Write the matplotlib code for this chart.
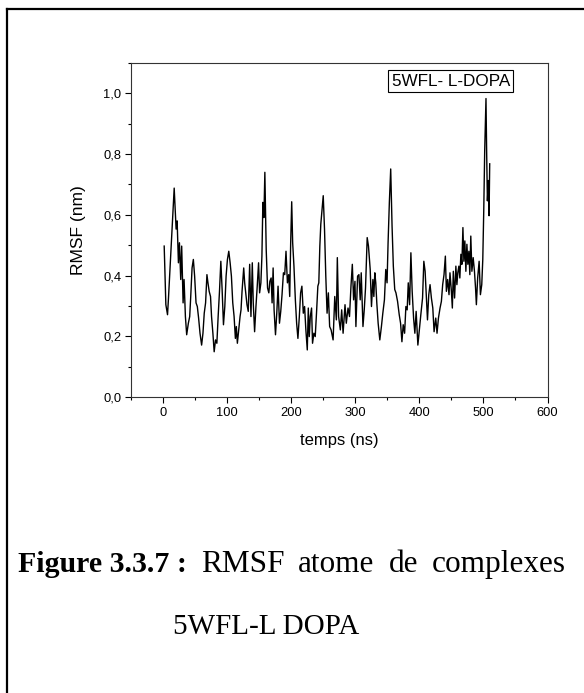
import matplotlib
matplotlib.use('Agg')
import matplotlib.pyplot as plt
from matplotlib.lines import Line2D
from matplotlib.ticker import MultipleLocator, FuncFormatter

plt.rcParams['font.family'] = ['Liberation Sans', 'DejaVu Sans']

# RMSF values (temps en ns, RMSF en nm)
temps = [1.8, 4.4, 7, 8.5, 12.1, 17.4, 20.4, 22, 24, 25.6, 27.6, 29.1, 31.3, 32.8, 34.9, 36.9, 39.5, 41.6, 43.1, 45.3,
         47.3, 49.3, 51.5, 53.5, 55.5, 57.7, 60.2, 62.3, 64.3, 66.4, 68.5, 70.1, 72, 74.1, 75.7, 77.8, 79.8, 81.9, 84, 86,
         88.1, 90.2, 92.2, 94.3, 96.4, 98.4, 100.5, 102.6, 104.7, 106.7, 108.8, 110.9, 112.9, 114.4, 116, 118.1, 120.2, 121.7,
         123.3, 125.9, 127.4, 131, 133, 135.2, 137.2, 139.3, 140.8, 142.9, 145, 147, 149.1, 150.7, 152.7, 154.3, 155.8, 157.4,
         158.9, 161, 163.1, 165.1, 166.7, 168.7, 170.2, 171.8, 173.3, 175.5, 177.5, 179.5, 181.7, 183.7, 185.7, 187.9, 189.9,
         191.9, 194.1, 196.1, 197.7, 199.2, 200.8, 202.3, 204.3, 206.5, 208.5, 210.5, 212.7, 214.7, 216.7, 218.9, 220.9, 222.9,
         225.1, 226.7, 228.2, 229.8, 231.8, 233.3, 235.4, 237.5, 239.5, 241.6, 243.1, 244.7, 246.2,
         250, 252, 254, 256, 258, 260, 262.3, 265.4, 268, 270.5, 272, 274, 276.7, 278.8, 281, 284, 286, 288.7, 291, 293.3,
         295.4, 297.4, 299.5, 301, 303.6, 305.7, 307.7, 309.3, 312, 314, 316, 318.6, 320.6, 323.3, 325.3, 327.5, 329, 330.5,
         332, 333.6, 335.7, 338.3, 340.8, 343, 345.5, 347.6, 349.6, 351.2, 353.2, 355.3, 357.4, 359.4, 361.6,
         363.5, 366, 368.6, 370.7, 372.8, 374.8, 377, 379, 381, 382.7, 384.8, 386.8, 388.8, 391, 393, 395, 397.7, 399.7,
         402.3, 405, 407, 409, 411, 412.7, 414.7, 416.7, 418.8, 421, 423, 425.6, 427.6, 429.8, 432.3, 434.4, 436.4, 438.5,
         440.6, 442.2, 444.2, 446.3, 447.8, 450, 451.5, 453, 455, 457, 458.6, 460, 461.7, 463.2, 464.8, 466.4, 468, 469.5,
         471, 472.6, 474.2, 475.7, 477.3, 478.8, 480.3, 482, 484, 486, 487.7, 489, 491, 493.3, 495.3, 497.4, 499, 500.5,
         502, 503, 504, 505, 506.2, 507.7, 508.8, 509.8]
rmsf = [0.497, 0.304, 0.271, 0.326, 0.47, 0.688, 0.553, 0.58, 0.442, 0.508, 0.387, 0.497, 0.31, 0.387, 0.265, 0.205, 0.243, 0.265, 0.326, 0.425,
        0.453, 0.398, 0.31, 0.298, 0.26, 0.21, 0.171, 0.21, 0.276, 0.31, 0.403, 0.376, 0.348, 0.331, 0.265, 0.21, 0.149, 0.188, 0.177, 0.265,
        0.348, 0.447, 0.354, 0.238, 0.298, 0.398, 0.453, 0.48, 0.442, 0.398, 0.31, 0.265, 0.193, 0.232, 0.177, 0.221, 0.265, 0.287,
        0.348, 0.425, 0.376, 0.304, 0.282, 0.437, 0.265, 0.442, 0.31, 0.215, 0.298, 0.365, 0.442, 0.343, 0.376, 0.464, 0.641, 0.591,
        0.74, 0.486, 0.359, 0.343, 0.381, 0.392, 0.31, 0.425, 0.287, 0.205, 0.276, 0.365, 0.243, 0.282, 0.337, 0.409, 0.403,
        0.48, 0.376, 0.403, 0.331, 0.508, 0.643, 0.508, 0.431, 0.32, 0.243, 0.193, 0.265, 0.343, 0.365, 0.276, 0.298, 0.221,
        0.155, 0.293, 0.199, 0.265, 0.293, 0.177, 0.21, 0.199, 0.276, 0.365, 0.376, 0.497, 0.569,
        0.663, 0.553, 0.398, 0.276, 0.343, 0.232, 0.221, 0.188, 0.331, 0.254, 0.459, 0.265, 0.221, 0.287, 0.21, 0.304, 0.243, 0.293, 0.265, 0.365,
        0.437, 0.32, 0.381, 0.232, 0.398, 0.403, 0.32, 0.409, 0.232, 0.287, 0.359, 0.525, 0.497, 0.42, 0.298, 0.387, 0.331, 0.409,
        0.376, 0.31, 0.243, 0.188, 0.232, 0.276, 0.32, 0.42, 0.376, 0.508, 0.641, 0.751, 0.564, 0.431, 0.354,
        0.343, 0.315, 0.271, 0.243, 0.182, 0.238, 0.21, 0.298, 0.287, 0.376, 0.304, 0.475, 0.348, 0.26, 0.21, 0.282, 0.171, 0.215,
        0.271, 0.326, 0.447, 0.414, 0.326, 0.254, 0.337, 0.37, 0.326, 0.293, 0.215, 0.26, 0.21, 0.26, 0.293, 0.315, 0.37, 0.403,
        0.464, 0.348, 0.387, 0.337, 0.409, 0.348, 0.293, 0.414, 0.326, 0.431, 0.37, 0.409, 0.431, 0.392, 0.47, 0.437, 0.558, 0.447,
        0.514, 0.414, 0.503, 0.437, 0.48, 0.403, 0.53, 0.414, 0.459, 0.414, 0.359, 0.304, 0.392, 0.447, 0.337, 0.37, 0.453, 0.613,
        0.812, 0.9, 0.983, 0.812, 0.646, 0.713, 0.597, 0.768]

legende = '5WFL- L-DOPA'
titre_gras = 'Figure 3.3.7 :'
titre_mots = ['RMSF', 'atome', 'de', 'complexes']
titre_ligne2 = '5WFL-L DOPA'

W, H = 584, 693
fig = plt.figure(figsize=(W / 100, H / 100), dpi=100)
ax = fig.add_axes([131 / W, 1 - 397 / H, (547.5 - 131) / W, (397 - 63) / H])

ax.plot(temps, rmsf, color='black', lw=1.0)
ax.set_xlim(-50, 600)
ax.set_ylim(0, 1.1)
ax.xaxis.set_major_locator(MultipleLocator(100))
ax.xaxis.set_minor_locator(MultipleLocator(50))
ax.yaxis.set_major_locator(MultipleLocator(0.2))
ax.yaxis.set_minor_locator(MultipleLocator(0.1))
ax.yaxis.set_major_formatter(FuncFormatter(lambda v, p: ('%.1f' % v).replace('.', ',')))
ax.tick_params(which='major', direction='out', length=4, width=0.8, labelsize=9.3, pad=3)
ax.tick_params(which='minor', direction='out', length=2, width=0.8)
for s in ax.spines.values():
    s.set_linewidth(0.8)
    s.set_color('#333333')

ax.set_xlabel('temps (ns)', fontsize=12, labelpad=10)
ax.set_ylabel('RMSF (nm)', fontsize=12.5, labelpad=12)

ax.text(0.768, 0.946, legende, transform=ax.transAxes, ha='center', va='center', fontsize=12.3,
        bbox=dict(boxstyle='square,pad=0.2', fc='white', ec='black', lw=0.8))

# cadre de la page (gauche et haut seulement)
fig.add_artist(Line2D([7 / W, 7 / W], [0, 1 - 9 / H], transform=fig.transFigure, color='black', lw=1.6))
fig.add_artist(Line2D([7 / W, 1], [1 - 9 / H, 1 - 9 / H], transform=fig.transFigure, color='black', lw=1.6))

# legende de la figure (premiere ligne justifiee)
serif = ['Liberation Serif', 'DejaVu Serif']
y1 = 1 - 572 / H
r = fig.canvas.get_renderer()
t1 = fig.text(18 / W, y1, titre_gras, family=serif, fontweight='bold', fontsize=21.5, va='baseline')
x = t1.get_window_extent(renderer=r).x1
mots = [fig.text(0, y1, m, family=serif, fontsize=22.5, va='baseline') for m in titre_mots]
largeurs = [m.get_window_extent(renderer=r).width for m in mots]
x_fin = 566
ecart = (x_fin - x - sum(largeurs)) / len(mots)
for m, w in zip(mots, largeurs):
    x += ecart
    m.set_x(x / W)
    x += w
fig.text(266.5 / W, 1 - 634 / H, titre_ligne2, family=serif, fontsize=21, va='baseline', ha='center')

fig.savefig('out.png', dpi=100)
